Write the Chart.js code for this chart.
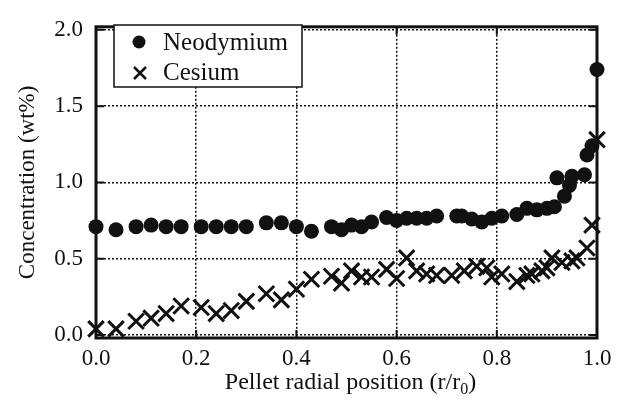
<!DOCTYPE html>
<html>
<head>
<meta charset="utf-8">
<script src="https://cdn.jsdelivr.net/npm/chart.js@4"></script>
<style>
  html, body { margin: 0; padding: 0; background: #fff; }
  #wrap { width: 623px; height: 403px; }
</style>
</head>
<body>
<div id="wrap"><canvas id="c" width="623" height="403"></canvas></div>
<script>
// values
const ndX = [0.0, 0.04, 0.08, 0.11, 0.14, 0.17, 0.21, 0.24, 0.27, 0.30, 0.34, 0.37, 0.40, 0.43, 0.47, 0.49,
  0.51, 0.53, 0.55, 0.58, 0.60, 0.62, 0.64, 0.66, 0.68, 0.72, 0.73, 0.75, 0.77, 0.79, 0.81, 0.84,
  0.86, 0.88, 0.90, 0.915, 0.92, 0.935, 0.945, 0.95, 0.975, 0.98, 0.99, 1.0];
const ndY = [0.71, 0.69, 0.71, 0.72, 0.71, 0.71, 0.71, 0.71, 0.71, 0.71, 0.735, 0.735, 0.71, 0.68, 0.71, 0.69,
  0.72, 0.71, 0.74, 0.77, 0.75, 0.765, 0.765, 0.765, 0.78, 0.78, 0.78, 0.76, 0.74, 0.765, 0.78, 0.79,
  0.83, 0.82, 0.83, 0.84, 1.03, 0.91, 0.98, 1.04, 1.05, 1.18, 1.24, 1.74];

const csX = [0.0, 0.04, 0.08, 0.11, 0.14, 0.17, 0.21, 0.24, 0.27, 0.30, 0.34, 0.37, 0.40, 0.43, 0.47, 0.49,
  0.51, 0.53, 0.55, 0.58, 0.60, 0.62, 0.64, 0.66, 0.68, 0.71, 0.735, 0.76, 0.78, 0.79, 0.81, 0.84,
  0.86, 0.87, 0.89, 0.90, 0.91, 0.93, 0.95, 0.96, 0.98, 0.99, 1.0];
const csY = [0.04, 0.04, 0.09, 0.11, 0.14, 0.19, 0.18, 0.14, 0.16, 0.22, 0.27, 0.23, 0.30, 0.365, 0.385, 0.34,
  0.42, 0.38, 0.38, 0.43, 0.37, 0.505, 0.42, 0.40, 0.39, 0.39, 0.42, 0.45, 0.44, 0.38, 0.40, 0.35,
  0.39, 0.40, 0.42, 0.44, 0.505, 0.475, 0.485, 0.505, 0.57, 0.72, 1.28];

const xTicks = [0, 0.2, 0.4, 0.6, 0.8, 1.0];
const yTicks = [0, 0.5, 1.0, 1.5, 2.0];

const serif = '"Liberation Serif", "DejaVu Serif", serif';
const ink = '#111';

const pts = (xs, ys) => xs.map((x, i) => ({ x, y: ys[i] }));

// frame with inward ticks on all four sides, legend box, x title with subscript
const framePlugin = {
  id: 'frame',
  beforeDatasetsDraw(chart) {
    const { ctx, chartArea: a, scales: { x, y } } = chart;
    ctx.save();
    ctx.strokeStyle = ink;
    ctx.lineWidth = 2;
    const len = 8;
    ctx.beginPath();
    xTicks.forEach(v => {
      const px = x.getPixelForValue(v);
      ctx.moveTo(px, a.bottom); ctx.lineTo(px, a.bottom - len);
      ctx.moveTo(px, a.top); ctx.lineTo(px, a.top + len);
    });
    yTicks.forEach(v => {
      const py = y.getPixelForValue(v);
      ctx.moveTo(a.left, py); ctx.lineTo(a.left + len, py);
      ctx.moveTo(a.right, py); ctx.lineTo(a.right - len, py);
    });
    ctx.stroke();
    ctx.lineWidth = 3;
    ctx.strokeRect(a.left, a.top, a.right - a.left, a.bottom - a.top);
    ctx.restore();
  },
  afterDraw(chart) {
    const { ctx, chartArea: a } = chart;
    ctx.save();
    const bx = 114, by = 25, bw = 188, bh = 62;
    ctx.fillStyle = '#fff';
    ctx.fillRect(bx, by, bw, bh);
    ctx.strokeStyle = ink;
    ctx.lineWidth = 1.5;
    ctx.strokeRect(bx, by, bw, bh);
    ctx.fillStyle = ink;
    ctx.beginPath();
    ctx.arc(139, 42, 6.5, 0, Math.PI * 2);
    ctx.fill();
    ctx.lineWidth = 2.5;
    ctx.beginPath();
    ctx.moveTo(134, 67); ctx.lineTo(146, 79);
    ctx.moveTo(146, 67); ctx.lineTo(134, 79);
    ctx.stroke();
    ctx.font = '25px ' + serif;
    ctx.textBaseline = 'middle';
    ctx.textAlign = 'left';
    ctx.fillText(chart.data.datasets[0].label, 163, 43);
    ctx.fillText(chart.data.datasets[1].label, 163, 73);

    const main = 'Pellet radial position (r/r';
    const sub = '0';
    const tail = ')';
    ctx.font = '24px ' + serif;
    const w1 = ctx.measureText(main).width;
    const w3 = ctx.measureText(tail).width;
    ctx.font = '16px ' + serif;
    const w2 = ctx.measureText(sub).width;
    const cx = (a.left + a.right) / 2 + 4;
    const sx = cx - (w1 + w2 + w3) / 2;
    const base = 389;
    ctx.textBaseline = 'alphabetic';
    ctx.font = '24px ' + serif;
    ctx.fillText(main, sx, base);
    ctx.font = '16px ' + serif;
    ctx.fillText(sub, sx + w1, base + 5);
    ctx.font = '24px ' + serif;
    ctx.fillText(tail, sx + w1 + w2, base);
    ctx.restore();
  }
};

new Chart(document.getElementById('c').getContext('2d'), {
  type: 'scatter',
  data: {
    datasets: [
      {
        label: 'Neodymium', data: pts(ndX, ndY),
        pointStyle: 'circle', pointRadius: 7.5, pointBackgroundColor: ink,
        pointBorderWidth: 0, borderColor: ink, clip: false,
      },
      {
        label: 'Cesium', data: pts(csX, csY),
        pointStyle: 'crossRot', pointRadius: 11, pointBorderWidth: 3,
        pointBorderColor: ink, borderColor: ink, clip: false,
      },
    ],
  },
  options: {
    responsive: false, animation: false,
    layout: { padding: { left: 0, top: 16, right: 26, bottom: 0 } },
    plugins: { legend: { display: false }, tooltip: { enabled: false } },
    scales: {
      x: {
        type: 'linear', min: 0, max: 1,
        afterBuildTicks: s => { s.ticks = xTicks.map(v => ({ value: v })); },
        afterFit: s => { s.height = 65; },
        ticks: { color: ink, font: { family: serif, size: 23 }, padding: 7, callback: v => v.toFixed(1) },
        grid: { color: ink, lineWidth: 1.5, drawTicks: false },
        border: { display: false, dash: [2, 2] },
      },
      y: {
        type: 'linear', min: -0.02, max: 2.02,
        afterBuildTicks: s => { s.ticks = yTicks.map(v => ({ value: v })); },
        afterFit: s => { s.width = 96; },
        ticks: { color: ink, font: { family: serif, size: 23 }, padding: 13, callback: v => v.toFixed(1) },
        grid: { color: ink, lineWidth: 1.5, drawTicks: false },
        border: { display: false, dash: [2, 2] },
        title: { display: true, text: 'Concentration (wt%)', color: ink, font: { family: serif, size: 23 }, padding: { top: 14, bottom: 0 } },
      },
    },
  },
  plugins: [framePlugin],
});
</script>
</body>
</html>
